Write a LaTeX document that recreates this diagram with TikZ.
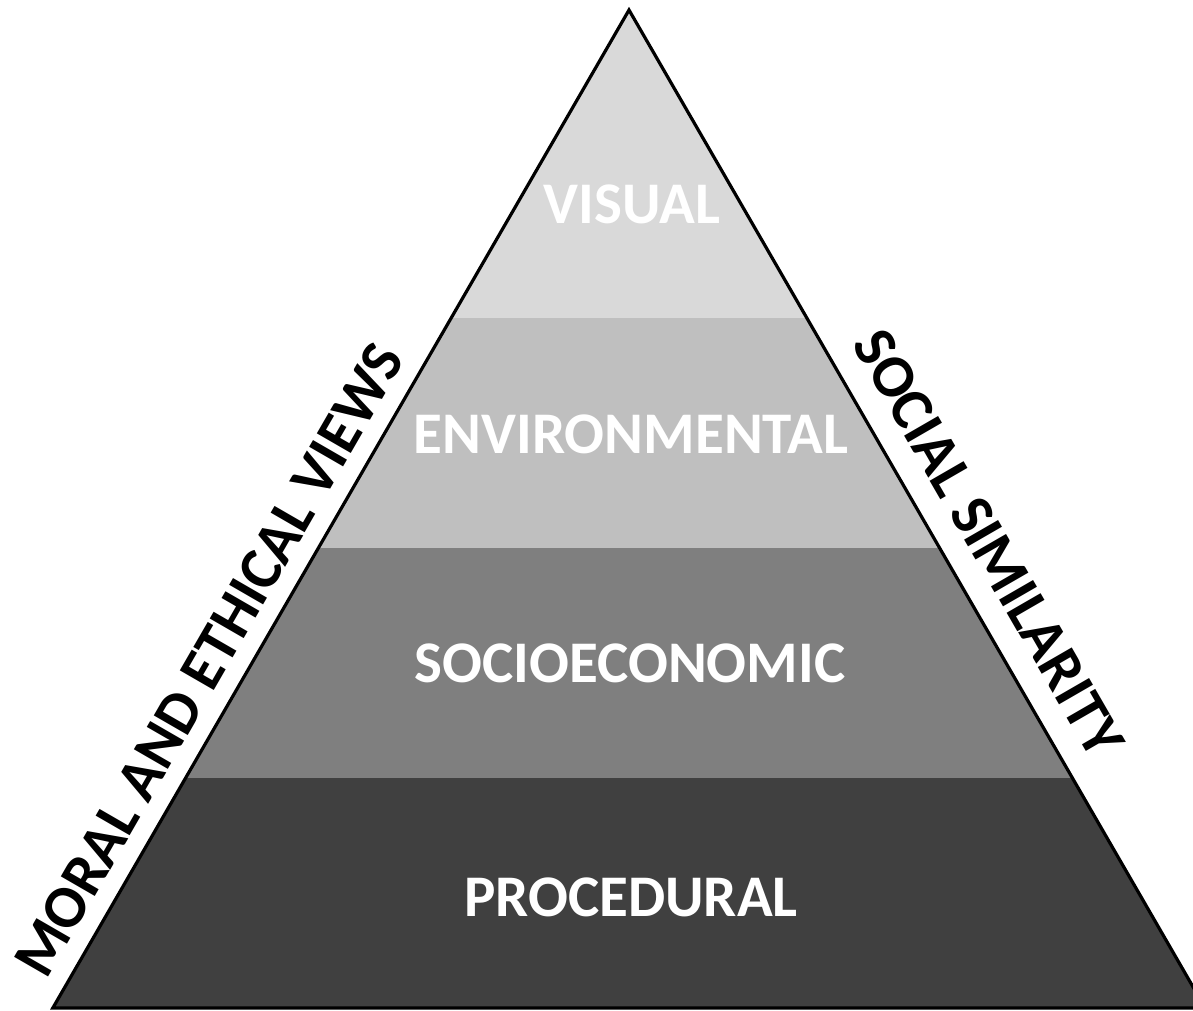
\documentclass[tikz,border=0pt]{standalone}
\usepackage{fontspec}
\setmainfont{Carlito}
\begin{document}
\begin{tikzpicture}[x=1pt,y=-1pt,
  bandtext/.style={font=\fontsize{59}{60}\selectfont\bfseries, text=white, inner sep=0pt, anchor=center},
  sidetext/.style={font=\fontsize{60.5}{62}\selectfont\bfseries, text=black, inner sep=0pt, anchor=center},
  edge/.style={draw=black, line width=3.2pt, line join=miter}]
\useasboundingbox (0,0) rectangle (1193,1011);
\clip (0,0) rectangle (1193,1011);
\coordinate (apex) at (629,10);
\coordinate (bl) at (52.8,1008);
\coordinate (br) at (1205.2,1008);
\begin{scope}
  \clip (apex) -- (bl) -- (br) -- cycle;
  \fill[fill={rgb,255:red,217;green,217;blue,217}] (0,0) rectangle (1300,318);
  \fill[fill={rgb,255:red,191;green,191;blue,191}] (0,318) rectangle (1300,548);
  \fill[fill={rgb,255:red,127;green,127;blue,127}] (0,548) rectangle (1300,778);
  \fill[fill={rgb,255:red,64;green,64;blue,64}] (0,778) rectangle (1300,1010);
\end{scope}
\draw[edge] (apex) -- (bl) -- (br) -- cycle;
\node[bandtext] (visual) at (632,204) {VISUAL};
\node[bandtext] (env) at (631,434) {ENVIRONMENTAL};
\node[bandtext] (socio) at (630,663) {SOCIOECONOMIC};
\node[bandtext] (proc) at (631,897) {PROCEDURAL};
\node[sidetext, rotate=60] (moral) at (209,660) {MORAL AND ETHICAL VIEWS};
\node[sidetext, rotate=-60] (social) at (989,543) {SOCIAL SIMILARITY};
\end{tikzpicture}
\end{document}
